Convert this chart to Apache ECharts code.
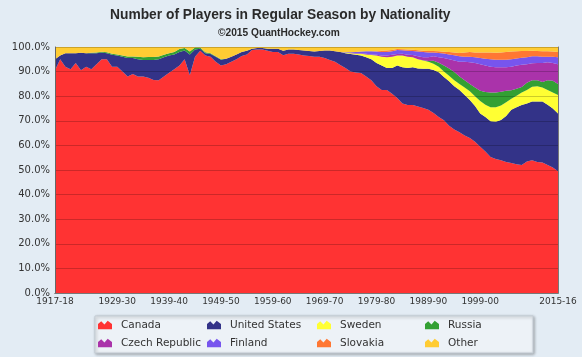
<!DOCTYPE html>
<html>
<head>
<meta charset="utf-8">
<script src="https://cdn.jsdelivr.net/npm/echarts@6/dist/echarts.min.js"></script>
<style>
html,body{margin:0;padding:0;background:#e3ecf4;}
#chart{width:582px;height:357px;}
</style>
</head>
<body>
<div id="chart"></div>
<script>
// Seasons 1917-18 .. 2015-16 (2004-05 lockout season absent)
var seasons = [];
for (var y = 1917; y <= 2015; y++) {
  if (y === 2004) continue;
  var n = (y + 1) % 100;
  seasons.push(y + '-' + (n < 10 ? '0' + n : '' + n));
}
var tickLabels = ['1917-18','1929-30','1939-40','1949-50','1959-60','1969-70','1979-80','1989-90','1999-00','2015-16'];

var canada = [90.5,95,92,91,93.5,90.5,92,91,93,95,
  95,92,92,90,88,89,88,88,87.5,86.6,
  86.5,88,89.5,91,92.5,95,88.5,96,98.5,96.5,
  96,94,92.5,93,94,95,96.3,97,98.8,99,
  99,98.5,98,98,96.6,97.3,97.3,97,96.5,96.3,
  96,96,95.5,94.7,94,92.7,91.5,90,89.6,89.4,
  88,86.5,84,82.5,82.5,81,79.3,77,76.4,76.4,
  75.8,75.2,74.5,73.2,71.5,70.2,68,66.5,65.3,64,
  63,61.5,59.5,57.5,55.3,54.5,54,53.3,52.8,52.3,
  52,53.5,54,53.3,53,52,51,49.5];
var unitedStates = [4.5,1.5,5.5,6.5,4,7.2,5.5,6.5,4.5,2.8,
  2.5,4.8,4.5,6,7.5,6.5,7,6.7,7.2,8.1,
  8.5,7.8,7,6,5.5,3.6,8.5,3,0.8,1,
  1.2,2,2.3,2.2,2,2,1.7,1.5,0.5,0.6,
  0.6,0.8,1.3,1.3,1.9,1.7,1.7,1.8,2.1,2.1,
  2.2,2.4,3.1,3.9,4.3,5.3,6,7.2,7.2,7.1,
  7.8,8.5,9.5,10,9,10.5,13.2,14.8,15.1,15.4,
  15.5,16,16.7,17.5,18.2,17.6,18.1,17.5,17.2,16.5,
  15.5,14.5,13.5,14,14.5,15.1,16.3,18.7,21.7,23.2,
  24.4,23.5,23.8,24.5,24.8,24.5,24,23.5];
var sweden = [0,0,0,0,0,0,0,0,0,0,
  0,0,0,0,0,0,0,0,0,0,
  0,0,0,0,0,0,0,0,0,0,
  0,0,0,0,0,0,0,0,0,0,
  0,0,0,0,0,0,0,0,0,0,
  0,0,0,0,0,0,0.2,0.3,0.5,0.8,
  1.2,1.7,3,3.5,4.3,4.5,4,4.7,4.5,4,
  3.7,3.3,2.8,2.5,2.3,2.2,2.2,2.5,2.5,3,
  3.5,4,5,5,5.7,5.9,5.9,5.5,4.5,4.7,
  5.1,5.5,6,6.2,5.7,6,6.5,7.5];
var russia = [0,0,0,0,0,0,0,0.2,0.3,0.3,
  0.4,0.5,0.5,0.5,0.6,0.6,1,1.1,1.2,1.2,
  1.1,1,1,1,1.2,1,1.2,0.8,0.5,0.4,
  0.3,0.2,0.2,0,0,0,0,0,0,0,
  0,0,0,0,0,0,0,0,0,0,
  0,0,0,0,0,0,0,0,0,0,
  0,0,0,0,0,0,0,0,0,0,
  0,0.1,0.3,1.2,1.6,2.5,3,3.3,3,3,
  3,3.5,4.2,5.2,6,6,5.6,4.7,3.4,2.8,
  2.2,3,2.7,2.5,2.3,4,4.8,4.5];
var czechRepublic = [0,0,0,0,0,0,0,0,0,0,
  0,0,0,0,0,0,0,0,0,0,
  0,0,0,0,0,0,0,0,0,0,
  0,0,0,0,0,0,0,0,0,0,
  0,0,0,0,0,0,0,0,0,0,
  0,0,0,0,0,0,0,0.1,0.2,0.2,
  0.3,0.3,0.3,0.5,0.7,0.8,0.7,0.8,0.9,0.9,
  1.2,1.2,1.5,1.8,2.2,3,3.7,4.7,6,7.5,
  8.8,10,10.8,10.8,10.5,10.3,10,9.6,9.6,9.5,
  9.1,7.5,6.9,7,7.7,7.3,7.2,8];
var finland = [0,0,0,0,0,0,0,0,0,0,
  0,0,0,0,0,0,0,0,0,0,
  0,0,0,0,0,0,0,0,0,0,
  0,0,0,0,0,0,0,0,0,0,
  0,0,0,0,0,0,0,0,0,0,
  0,0,0,0,0,0,0.2,0.3,0.5,0.7,
  1,1.3,1.4,1.5,1.5,1.5,1.6,1.4,1.6,1.7,
  2,2.2,2,1.6,1.8,1.9,2,2.1,2.2,2,
  2.2,2.3,2.5,2.7,3,3,3,3,3,2.8,
  2.8,2.8,2.8,2.7,2.5,2.2,2.5,2.8];
var slovakia = [0,0,0,0,0,0,0,0,0,0,
  0,0,0,0,0,0,0,0,0,0,
  0,0,0,0,0,0,0,0,0,0,
  0,0,0,0,0,0,0,0,0,0,
  0,0,0,0,0,0,0,0,0,0,
  0,0,0,0,0,0,0,0,0,0,
  0,0,0.1,0.5,0.6,0.5,0.4,0.4,0.5,0.5,
  0.5,0.5,0.6,0.6,0.7,0.7,1,1.2,1.4,1.8,
  2,2,2.3,2.6,2.8,2.9,3,3.2,3.2,3,
  2.8,2.6,2.3,2.2,2.3,2.3,2.2,2.2];
var other = [5,3.5,2.5,2.5,2.5,2.3,2.5,2.3,2.2,1.9,
  2.1,2.7,3,3.5,3.9,3.9,4,4.2,4.1,4.1,
  3.9,3.2,2.5,2,0.8,0.4,1.8,0.2,0.2,2.1,
  2.5,3.8,5,4.8,4,3,2,1.5,0.7,0.4,
  0.4,0.7,0.7,0.7,1.5,1,1,1.2,1.4,1.6,
  1.8,1.6,1.4,1.4,1.7,2,2.1,2.1,2,1.8,
  1.7,1.7,1.7,1.5,1.4,1.2,0.8,0.9,1,1.1,
  1.3,1.5,1.6,1.6,1.7,1.9,2,2.2,2.4,2.2,
  2,2.2,2.2,2.2,2.2,2.3,2.2,2,1.8,1.7,
  1.6,1.6,1.5,1.6,1.7,1.7,1.8,2];

var names = ['Canada','United States','Sweden','Russia','Czech Republic','Finland','Slovakia','Other'];
var values = [canada, unitedStates, sweden, russia, czechRepublic, finland, slovakia, other];
var colors = ['#ff3333','#333388','#ffff33','#33a033','#aa33aa','#7755ee','#ff7733','#ffcc33'];

var icon = 'path://M0,9 L0,4 L3,1.5 L6,4.5 L9,1 L13,4 L13,9 Z';
var fontFam = 'DejaVu Sans, Verdana, sans-serif';

var series = names.map(function (nm, k) {
  return {
    name: nm, type: 'line', stack: 'total', data: values[k],
    symbol: 'none', showSymbol: false, smooth: false,
    lineStyle: { width: 0 },
    areaStyle: { color: colors[k], opacity: 1 },
    itemStyle: { color: colors[k] },
    emphasis: { disabled: true },
    animation: false
  };
});

function legendCol(items, left) {
  return {
    data: items.map(function (n) { return { name: n, icon: icon }; }),
    orient: 'vertical', left: left, top: 319, padding: 0,
    itemWidth: 14, itemHeight: 9, itemGap: 6,
    textStyle: { fontFamily: fontFam, fontSize: 10.5, color: '#333', lineHeight: 12, padding: [0, 0, 0, 4] },
    selectedMode: false
  };
}

var chart = echarts.init(document.getElementById('chart'), null, { renderer: 'canvas' });
chart.setOption({
  backgroundColor: '#e3ecf4',
  animation: false,
  color: colors,
  title: [
    { text: 'Number of Players in Regular Season by Nationality', left: 105, top: 3,
      textStyle: { fontFamily: 'Liberation Sans, Arial, sans-serif', fontWeight: 'bold', fontSize: 13.8, color: '#2a2a2a' } },
    { text: '\u00a92015 QuantHockey.com', left: 213, top: 23,
      textStyle: { fontFamily: 'Liberation Sans, Arial, sans-serif', fontWeight: 'bold', fontSize: 10.2, color: '#2a2a2a' } }
  ],
  graphic: [{
    type: 'rect', z: 0, silent: true,
    shape: { x: 95, y: 316, width: 438, height: 37 },
    style: { fill: '#edf2f7', stroke: '#c3cbd3', lineWidth: 1,
      shadowBlur: 3, shadowOffsetX: 1, shadowOffsetY: 1, shadowColor: 'rgba(0,0,0,0.3)' }
  }],
  legend: [
    legendCol(['Canada', 'Czech Republic'], 98),
    legendCol(['United States', 'Finland'], 207),
    legendCol(['Sweden', 'Slovakia'], 317),
    legendCol(['Russia', 'Other'], 425)
  ],
  grid: { left: 55, right: 24, top: 47, bottom: 64, containLabel: false },
  xAxis: [{
    type: 'category', data: seasons, boundaryGap: false, z: 10,
    axisLine: { show: true, lineStyle: { color: '#666', width: 1 } },
    axisTick: { show: false },
    splitLine: { show: false },
    axisLabel: {
      fontFamily: fontFam, fontSize: 9, color: '#333', margin: 4,
      interval: function (idx, val) { return tickLabels.indexOf(val) >= 0; }
    }
  }, {
    type: 'value', position: 'top', min: 0, max: 1, z: 10,
    axisLine: { show: true, lineStyle: { color: '#777', width: 1 } },
    axisTick: { show: false }, axisLabel: { show: false }, splitLine: { show: false }
  }],
  yAxis: [{
    type: 'value', min: 0, max: 100, interval: 10, z: 10,
    axisLine: { show: true, lineStyle: { color: '#666', width: 1 } },
    axisTick: { show: false },
    splitLine: { show: true, lineStyle: { color: 'rgba(0,0,0,0.2)', width: 1 } },
    axisLabel: { fontFamily: fontFam, fontSize: 10, color: '#333', margin: 5,
      formatter: function (v) { return v.toFixed(1) + '%'; } }
  }, {
    type: 'value', position: 'right', min: 0, max: 100, z: 10,
    axisLine: { show: true, lineStyle: { color: '#777', width: 1 } },
    axisTick: { show: false }, axisLabel: { show: false }, splitLine: { show: false }
  }],
  series: series
});
</script>
</body>
</html>
